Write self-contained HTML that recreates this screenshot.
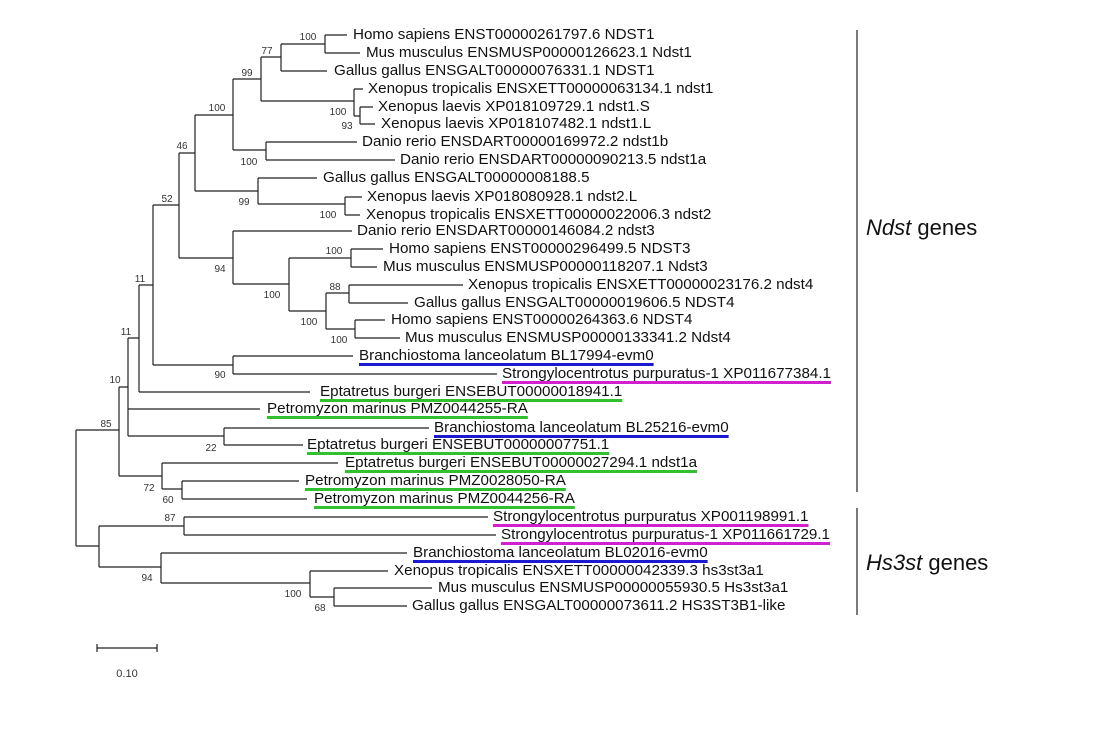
<!DOCTYPE html>
<html><head><meta charset="utf-8"><style>
body{margin:0;background:#fff;width:1102px;height:733px;position:relative;overflow:hidden;font-family:"Liberation Sans",Arial,sans-serif;}
.t{position:absolute;font-size:15.2px;line-height:16px;white-space:nowrap;color:#111;}
.u{text-decoration:underline;text-decoration-thickness:3px;text-underline-offset:3px;}
.b{text-decoration-color:#1a1ad0}.m{text-decoration-color:#d020d0}.g{text-decoration-color:#30c030}
svg{position:absolute;left:0;top:0}
</style></head><body>
<svg width="1102" height="733" viewBox="0 0 1102 733">
<g stroke="#222" stroke-width="1.2" fill="none">
<path d="M325 35V53M325 35H347M325 53H360"/>
<path d="M281 44V71M281 44H325M281 71H327"/>
<path d="M261 57V101M261 57H281M261 101H354"/>
<path d="M354 89V116M354 89H363M354 116H360M360 107V124M360 107H373M360 124H375"/>
<path d="M233 79V150M233 79H261M233 150H266"/>
<path d="M266 142V160M266 142H357M266 160H395"/>
<path d="M195 115V191M195 115H233M195 191H258"/>
<path d="M258 178V204M258 178H317M258 204H345M345 197V215M345 197H362M345 215H360"/>
<path d="M179 153V258M179 153H195M179 258H233"/>
<path d="M233 231V284M233 231H352M233 284H289"/>
<path d="M289 258V311M289 258H351M289 311H326"/>
<path d="M351 249V267M351 249H383M351 267H377"/>
<path d="M326 293V329M326 293H349M326 329H355"/>
<path d="M349 285V303M349 285H463M349 303H408"/>
<path d="M355 320V338M355 320H385M355 338H400"/>
<path d="M153 205V365M153 205H179M153 365H233"/>
<path d="M233 356V374M233 356H353M233 374H497"/>
<path d="M139 285V392M139 285H153M139 392H310"/>
<path d="M128 338V436M128 338H139M128 409H260M128 436H224"/>
<path d="M224 428V445M224 428H429M224 445H303"/>
<path d="M119 387V476M119 387H128M119 476H162"/>
<path d="M162 463V489M162 463H338M162 489H182"/>
<path d="M182 481V499M182 481H299M182 499H307"/>
<path d="M76 430V546M76 430H119M76 546H99"/>
<path d="M99 526V567M99 526H184M99 567H161"/>
<path d="M184 517V535M184 517H488M184 535H496"/>
<path d="M161 553V583M161 553H407M161 583H310"/>
<path d="M310 571V597M310 571H388M310 597H334"/>
<path d="M334 588V606M334 588H432M334 606H407"/>
<path d="M857 30V492M857 508V615"/>
<path d="M97 648H157M97 644V652M157 644V652"/>
</g>
<g font-family="Liberation Sans, Arial, sans-serif" font-size="10" fill="#333" text-anchor="middle">
<text x="308" y="40">100</text><text x="267" y="54">77</text><text x="247" y="76">99</text>
<text x="217" y="111">100</text><text x="338" y="115">100</text><text x="347" y="129">93</text>
<text x="249" y="165">100</text><text x="182" y="149">46</text><text x="167" y="202">52</text>
<text x="244" y="205">99</text><text x="328" y="218">100</text><text x="220" y="272">94</text>
<text x="334" y="254">100</text><text x="272" y="298">100</text><text x="335" y="290">88</text>
<text x="309" y="325">100</text><text x="339" y="343">100</text><text x="220" y="378">90</text>
<text x="140" y="282">11</text><text x="126" y="335">11</text><text x="115" y="383">10</text>
<text x="106" y="427">85</text><text x="211" y="451">22</text><text x="149" y="491">72</text>
<text x="168" y="503">60</text><text x="170" y="521">87</text><text x="147" y="581">94</text>
<text x="293" y="597">100</text><text x="320" y="611">68</text>
<text x="127" y="677" font-size="11">0.10</text>
</g>
</svg>
<div class="t" style="left:353px;top:27px">Homo sapiens ENST00000261797.6 NDST1</div>
<div class="t" style="left:366px;top:45px">Mus musculus ENSMUSP00000126623.1 Ndst1</div>
<div class="t" style="left:334px;top:63px">Gallus gallus ENSGALT00000076331.1 NDST1</div>
<div class="t" style="left:368px;top:81px">Xenopus tropicalis ENSXETT00000063134.1 ndst1</div>
<div class="t" style="left:378px;top:99px">Xenopus laevis XP018109729.1 ndst1.S</div>
<div class="t" style="left:381px;top:116px">Xenopus laevis XP018107482.1 ndst1.L</div>
<div class="t" style="left:362px;top:134px">Danio rerio ENSDART00000169972.2 ndst1b</div>
<div class="t" style="left:400px;top:152px">Danio rerio ENSDART00000090213.5 ndst1a</div>
<div class="t" style="left:323px;top:170px">Gallus gallus ENSGALT00000008188.5</div>
<div class="t" style="left:367px;top:189px">Xenopus laevis XP018080928.1 ndst2.L</div>
<div class="t" style="left:366px;top:207px">Xenopus tropicalis ENSXETT00000022006.3 ndst2</div>
<div class="t" style="left:357px;top:223px">Danio rerio ENSDART00000146084.2 ndst3</div>
<div class="t" style="left:389px;top:241px">Homo sapiens ENST00000296499.5 NDST3</div>
<div class="t" style="left:383px;top:259px">Mus musculus ENSMUSP00000118207.1 Ndst3</div>
<div class="t" style="left:468px;top:277px">Xenopus tropicalis ENSXETT00000023176.2 ndst4</div>
<div class="t" style="left:414px;top:295px">Gallus gallus ENSGALT00000019606.5 NDST4</div>
<div class="t" style="left:391px;top:312px">Homo sapiens ENST00000264363.6 NDST4</div>
<div class="t" style="left:405px;top:330px">Mus musculus ENSMUSP00000133341.2 Ndst4</div>
<div class="t u b" style="left:359px;top:348px">Branchiostoma lanceolatum BL17994-evm0</div>
<div class="t u m" style="left:502px;top:366px">Strongylocentrotus purpuratus-1 XP011677384.1</div>
<div class="t u g" style="left:320px;top:384px">Eptatretus burgeri ENSEBUT00000018941.1</div>
<div class="t u g" style="left:267px;top:401px">Petromyzon marinus PMZ0044255-RA</div>
<div class="t u b" style="left:434px;top:420px">Branchiostoma lanceolatum BL25216-evm0</div>
<div class="t u g" style="left:307px;top:437px">Eptatretus burgeri ENSEBUT00000007751.1</div>
<div class="t u g" style="left:345px;top:455px">Eptatretus burgeri ENSEBUT00000027294.1 ndst1a</div>
<div class="t u g" style="left:305px;top:473px">Petromyzon marinus PMZ0028050-RA</div>
<div class="t u g" style="left:314px;top:491px">Petromyzon marinus PMZ0044256-RA</div>
<div class="t u m" style="left:493px;top:509px">Strongylocentrotus purpuratus XP001198991.1</div>
<div class="t u m" style="left:501px;top:527px">Strongylocentrotus purpuratus-1 XP011661729.1</div>
<div class="t u b" style="left:413px;top:545px">Branchiostoma lanceolatum BL02016-evm0</div>
<div class="t" style="left:394px;top:563px">Xenopus tropicalis ENSXETT00000042339.3 hs3st3a1</div>
<div class="t" style="left:438px;top:580px">Mus musculus ENSMUSP00000055930.5 Hs3st3a1</div>
<div class="t" style="left:412px;top:598px">Gallus gallus ENSGALT00000073611.2 HS3ST3B1-like</div>
<div class="t" style="left:866px;top:215px;font-size:22px;line-height:26px"><i>Ndst</i> genes</div>
<div class="t" style="left:866px;top:550px;font-size:22px;line-height:26px"><i>Hs3st</i> genes</div>
</body></html>
